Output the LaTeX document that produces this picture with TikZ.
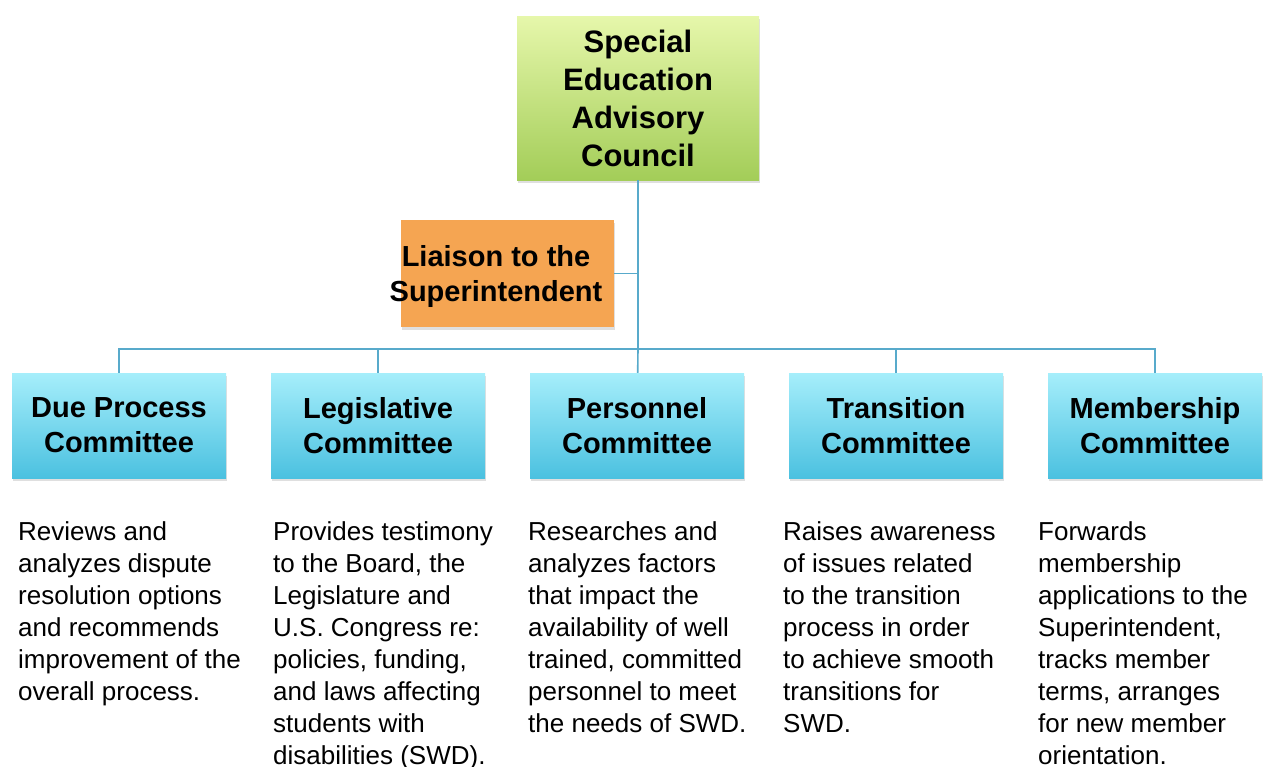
\documentclass[tikz,border=0pt]{standalone}
\usepackage{fontspec}
\setmainfont{Liberation Sans}
\usepackage{xcolor}
\usepackage{tikz}
\usetikzlibrary{shapes,positioning,shadows}
\definecolor{linkblue}{HTML}{58AACB}
\definecolor{greentop}{HTML}{E6F7AB}
\definecolor{greenbot}{HTML}{A3CD58}
\definecolor{cyantop}{HTML}{A6EEFB}
\definecolor{cyanbot}{HTML}{4BC1E0}
\definecolor{liaisonorange}{HTML}{F5A552}
\tikzset{council/.style={rectangle,top color=greentop,bottom color=greenbot,minimum width=242pt,minimum height=164pt,inner sep=0pt,align=center,font=\fontsize{31}{38}\selectfont\bfseries,drop shadow={opacity=0.25,shadow xshift=1pt,shadow yshift=-3pt}}}
\tikzset{liaisonbox/.style={rectangle,fill=liaisonorange,minimum width=213pt,minimum height=107pt,inner sep=0pt,drop shadow={opacity=0.25,shadow xshift=1pt,shadow yshift=-3pt}}}
\tikzset{cmte/.style={rectangle,top color=cyantop,bottom color=cyanbot,minimum width=214pt,minimum height=105pt,inner sep=0pt,align=center,font=\fontsize{29}{35}\selectfont\bfseries,drop shadow={opacity=0.25,shadow xshift=1pt,shadow yshift=-3pt}}}
\tikzset{duty/.style={inner sep=0pt,anchor=north west,align=left,font=\fontsize{26}{32}\selectfont}}
\tikzset{link/.style={draw=linkblue,line width=1.6pt}}

\begin{document}
\begin{tikzpicture}[x=1pt,y=-1pt]
        \useasboundingbox (0,0) rectangle (1269,766);
        \node[council] (sac) at (638,98) {Special\\Education\\Advisory\\Council};
        \node[liaisonbox] (lia) at (507.5,273.5) {};
        \node[inner sep=0pt,align=center,font=\fontsize{29}{35}\selectfont\bfseries] (liat) at (496,276) {Liaison to the\\Superintendent};
        \node[cmte] (due) at (119,425.5) {Due Process\\Committee};
        \node[cmte] (leg) at (378,425.5) {Legislative\\Committee};
        \node[cmte] (per) at (637,425.5) {Personnel\\Committee};
        \node[cmte] (tra) at (896,425.5) {Transition\\Committee};
        \node[cmte] (mem) at (1155,425.5) {Membership\\Committee};
        \coordinate (bus) at (638,349);

        \draw [link] (sac) -- (bus);
        \draw [link] (lia.east) -- (lia.east -| sac.south);
        \draw [link] (bus) -| (due);
        \draw [link] (bus) -| (leg);
        \draw [link] (bus) -- (per);
        \draw [link] (bus) -| (tra);
        \draw [link] (bus) -| (mem);

        \node[duty] (dued) at (18,521) {Reviews and\\analyzes dispute\\resolution options\\and recommends\\improvement of the\\overall process.};
        \node[duty] (legd) at (273,521) {Provides testimony\\to the Board, the\\Legislature and\\U.S. Congress re:\\policies, funding,\\and laws affecting\\students with\\disabilities (SWD).};
        \node[duty] (perd) at (528,521) {Researches and\\analyzes factors\\that impact the\\availability of well\\trained, committed\\personnel to meet\\the needs of SWD.};
        \node[duty] (trad) at (783,521) {Raises awareness\\of issues related\\to the transition\\process in order\\to achieve smooth\\transitions for\\SWD.};
        \node[duty] (memd) at (1038,521) {Forwards\\membership\\applications to the\\Superintendent,\\tracks member\\terms, arranges\\for new member\\orientation.};
    \end{tikzpicture}
\end{document}
